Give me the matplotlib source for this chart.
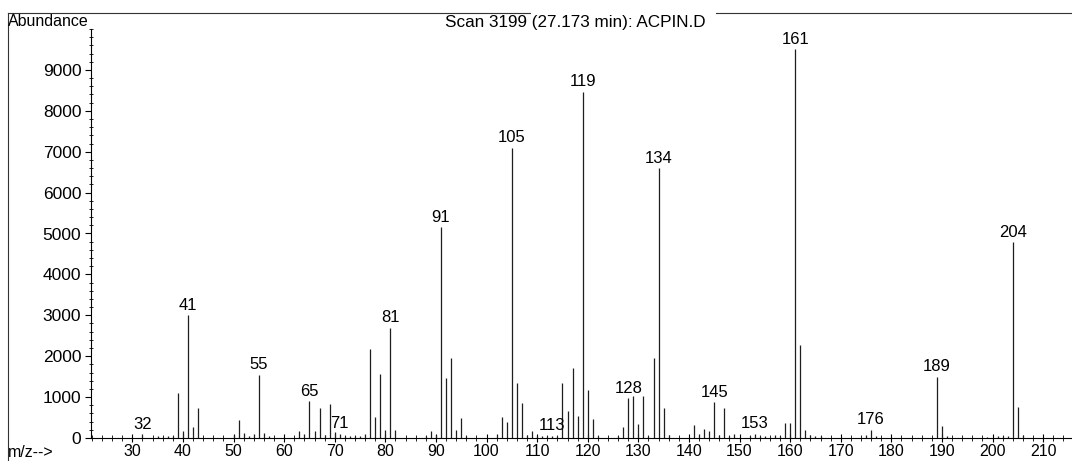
import numpy as np
import matplotlib.pyplot as plt
from matplotlib.ticker import MultipleLocator, FixedLocator

plt.rcParams['font.family'] = ['Liberation Sans', 'DejaVu Sans']

# mass spectrum, scan 3199
mz = [32, 35, 36, 37, 38, 39, 40, 41, 42, 43,
      50, 51, 52, 53, 54, 55, 56, 57,
      63, 64, 65, 66, 67, 68, 69, 70, 71, 72, 73, 74, 75, 76, 77, 78, 79, 80, 81, 82,
      88, 89, 90, 91, 92, 93, 94, 95, 96,
      102, 103, 104, 105, 106, 107, 108, 109, 110, 111, 112, 113, 114,
      115, 116, 117, 118, 119, 120, 121, 122,
      126, 127, 128, 129, 130, 131, 132, 133, 134, 135, 136,
      141, 142, 143, 144, 145, 146, 147, 148, 149,
      152, 153, 154, 155, 157, 158, 159, 160, 161, 162, 163, 164, 165, 166,
      175, 176, 177, 189, 190, 191,
      199, 201, 202, 203, 204, 205, 206]
abundance = [90, 40, 30, 40, 60, 1100, 180, 3000, 280, 730,
             80, 450, 130, 40, 100, 1550, 120, 50,
             170, 100, 900, 160, 730, 70, 840, 150, 100, 40, 50, 40, 60, 110, 2170, 520, 1570, 190, 2700, 200,
             50, 160, 80, 5150, 1460, 1950, 190, 500, 50,
             110, 520, 380, 7090, 1340, 850, 70, 160, 40, 50, 40, 60, 50,
             1340, 650, 1700, 540, 8460, 1170, 460, 50,
             60, 280, 970, 1030, 340, 1030, 60, 1950, 6600, 730, 80,
             320, 110, 210, 180, 870, 80, 730, 50, 90,
             50, 100, 50, 40, 70, 50, 375, 360, 9500, 2270, 200, 75, 50, 40,
             70, 200, 50, 1500, 290, 50,
             30, 40, 50, 40, 4790, 750, 70]

labelled = [32, 41, 55, 65, 71, 81, 91, 105, 113, 119, 128, 134, 145, 153, 161, 176, 189, 204]

yticks = [0, 1000, 2000, 3000, 4000, 5000, 6000, 7000, 8000, 9000]
xticks = list(range(30, 220, 10))

fig = plt.figure(figsize=(10.72, 4.61), dpi=100)
ax = fig.add_axes([91/1072, 23/461, 981/1072, 409/461])

ax.vlines(mz, 0, abundance, colors='#1e1e1e', linewidth=0.9)

ab = dict(zip(mz, abundance))
for m in labelled:
    ax.annotate(str(m), (m, ab[m]), xytext=(0, 4), textcoords='offset points',
                ha='center', va='baseline', fontsize=12)

ax.set_xlim(21.83, 215.7)
ax.set_ylim(0, 10000)

ax.yaxis.set_major_locator(FixedLocator(yticks))
ax.yaxis.set_minor_locator(MultipleLocator(200))
ax.xaxis.set_major_locator(FixedLocator(xticks))
ax.xaxis.set_minor_locator(MultipleLocator(2))

ax.tick_params(axis='y', which='major', direction='out', length=4, width=0.8, labelsize=12.5, pad=3)
ax.tick_params(axis='y', which='minor', direction='inout', length=3, width=0.6)
ax.tick_params(axis='x', which='major', direction='inout', length=6, width=0.8, labelsize=11.5, pad=1)
ax.tick_params(axis='x', which='minor', direction='inout', length=4, width=0.6)

for s in ['top', 'right']:
    ax.spines[s].set_visible(False)
ax.spines['left'].set_linewidth(0.8)
ax.spines['bottom'].set_linewidth(0.8)

# page frame and header texts
fig.add_artist(plt.Line2D([8/1072, 8/1072], [0, 1 - 12.7/461], color='#333333', linewidth=0.8))
fig.add_artist(plt.Line2D([8/1072, 530/1072], [1 - 12.7/461] * 2, color='#333333', linewidth=0.8))
fig.add_artist(plt.Line2D([716/1072, 1.0], [1 - 12.7/461] * 2, color='#333333', linewidth=0.8))

fig.text(8/1072, 1 - 22/461, 'Abundance', fontsize=11.5, va='center', ha='left')
fig.text(575/1072, 1 - 22.5/461, 'Scan 3199 (27.173 min): ACPIN.D', fontsize=12.3, va='center', ha='center')
fig.text(8/1072, 1 - 452/461, 'm/z-->', fontsize=11.5, va='center', ha='left')

plt.savefig('out.png', dpi=100)
